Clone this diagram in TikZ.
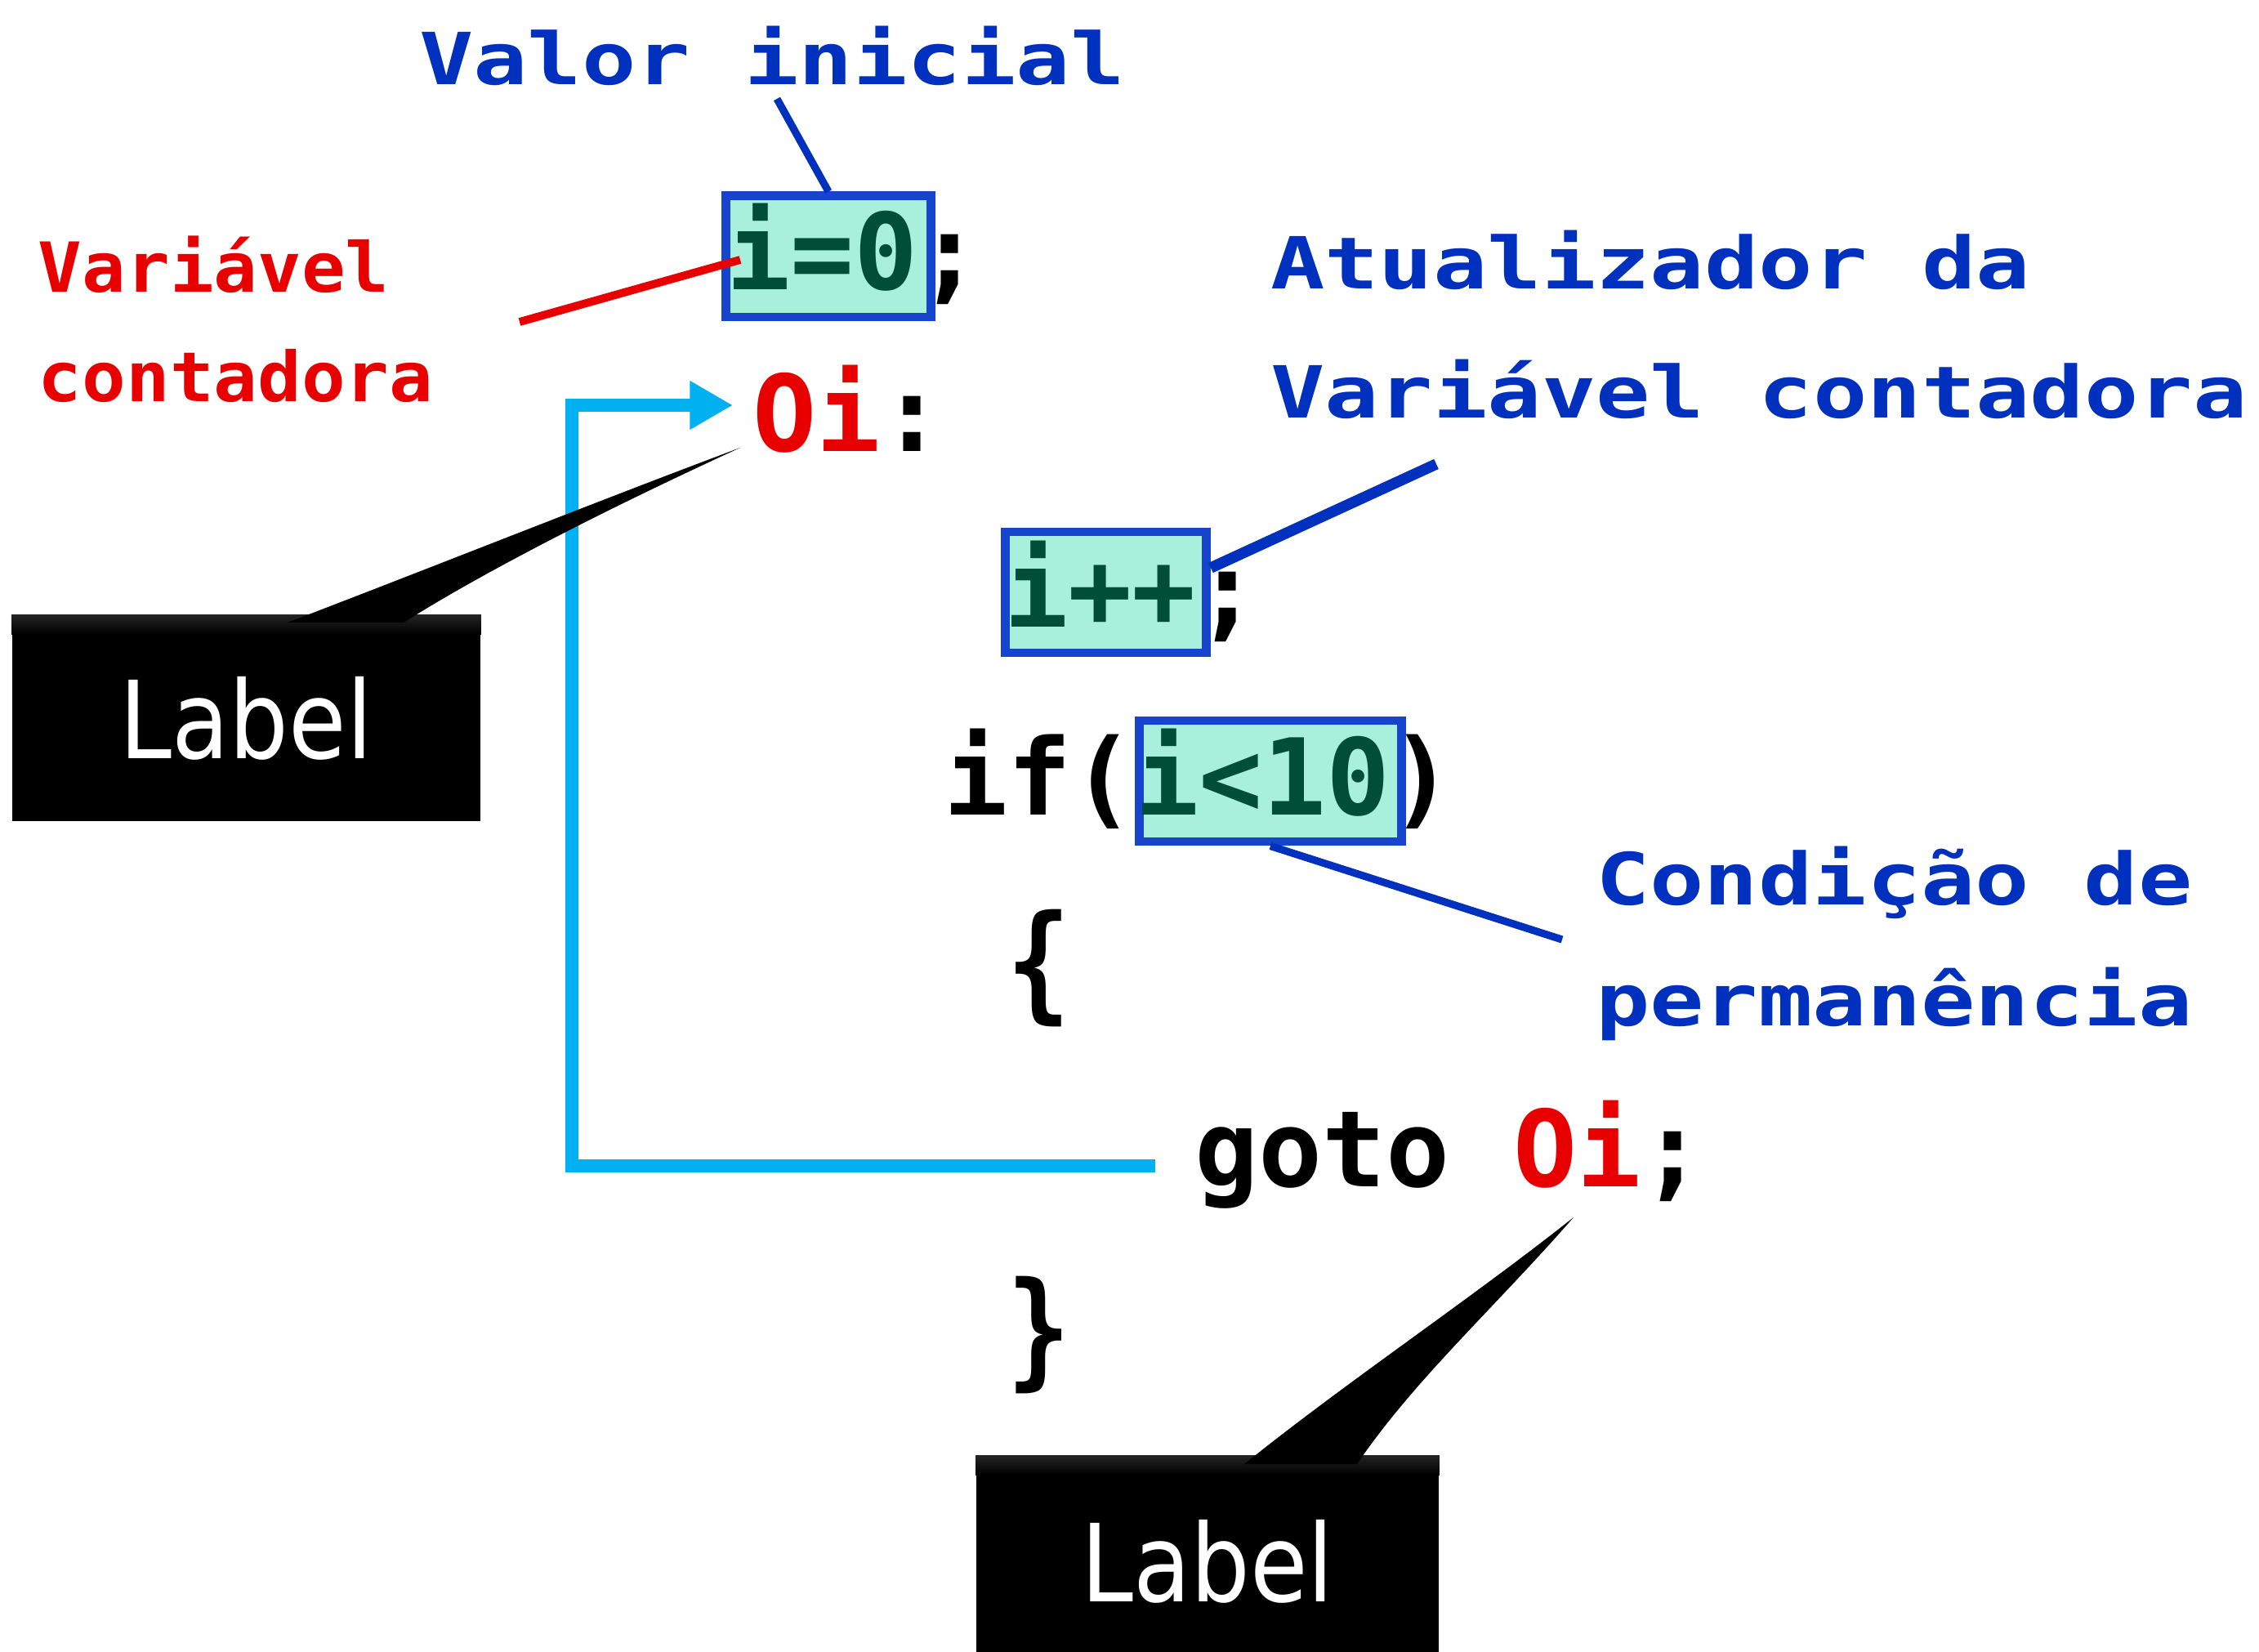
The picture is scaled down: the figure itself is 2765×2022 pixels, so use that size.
\documentclass[tikz,border=0pt]{standalone}
\usepackage{fontspec}
\usepackage{graphicx}
\usetikzlibrary{arrows.meta,calc}
\newfontfamily\codefont{DejaVu Sans Mono}
\newfontfamily\labelfont{DejaVu Sans}
\definecolor{annoblue}{RGB}{0,48,190}
\definecolor{annored}{RGB}{232,0,0}
\definecolor{boxblue}{RGB}{22,68,205}
\definecolor{boxfill}{RGB}{168,240,220}
\definecolor{codegreen}{RGB}{0,78,55}
\definecolor{loopcyan}{RGB}{0,176,240}
\tikzset{
  codetxt/.style={anchor=base west, inner sep=0pt, outer sep=0pt, font=\codefont\bfseries\fontsize{36.9}{40}\selectfont},
  annob/.style={anchor=base west, inner sep=0pt, outer sep=0pt, text=annoblue, font=\codefont\bfseries\fontsize{25}{28}\selectfont},
  annor/.style={anchor=base west, inner sep=0pt, outer sep=0pt, text=annored, font=\codefont\bfseries\fontsize{24}{28}\selectfont},
  codebox/.style={draw=boxblue, fill=boxfill, line width=3.1pt, inner sep=0pt, minimum height=1.48cm},
  labelbox/.style={fill=black, inner sep=0pt},
  labeltxt/.style={text=white, inner sep=0pt, font=\labelfont\fontsize{37.5}{40}\selectfont},
  bevel/.style={top color=black!86, bottom color=black},
  wedge/.style={fill=black},
  thinblue/.style={draw=annoblue, line width=2.6pt},
  thickblue/.style={draw=annoblue, line width=3.8pt},
  redline/.style={draw=annored, line width=2.8pt},
  loopline/.style={draw=loopcyan, line width=4.3pt, -{Triangle[length=15pt,width=16pt]}},
}
\newcommand{\bxs}[1]{\scalebox{1.255}[1]{#1}}
\newcommand{\rxs}[1]{\scalebox{1.057}[1]{#1}}
\newcommand{\lxs}[1]{\scalebox{0.87}[1]{#1}}
\begin{document}
\begin{tikzpicture}[x=0.01cm,y=-0.01cm]
\clip (0,0) rectangle (2765,2022);
\fill[white] (0,0) rectangle (2765,2022);

% highlighted boxes
\node[codebox, minimum width=2.51cm] (b1) at (1014,314) {};
\node[codebox, minimum width=2.46cm] (b2) at (1353.5,725) {};
\node[codebox, minimum width=3.21cm] (b3) at (1555,956) {};

% annotations
\node[annob] (vi) at (513,104) {\bxs{Valor inicial}};
\node[annor] (vc1) at (47,358) {\rxs{Variável}};
\node[annor] (vc2) at (47,492) {\rxs{contadora}};
\node[annob] (at1) at (1555,354) {\bxs{Atualizador da}};
\node[annob] (at2) at (1555,512) {\bxs{Variável contadora}};
\node[annob] (cp1) at (1953,1108) {\bxs{Condição de}};
\node[annob] (cp2) at (1953,1256) {\bxs{permanência}};

% connector lines (drawn before code text)
\coordinate (viend) at (951,121);
\draw[thinblue] (viend) -- (b1.north);
\coordinate (vcstart) at (636,394);
\coordinate (vcend) at (906,318);
\draw[redline] (vcstart) -- (vcend);
\coordinate (b2pt) at (1482,695);
\coordinate (atend) at (1758,568);
\draw[thickblue] (b2pt) -- (atend);
\coordinate (cpend) at (1912,1150);
\draw[thinblue] (b3.south) -- (cpend);

% code
\node[codetxt] (l1) at (889,355) {\textcolor{codegreen}{i=0};};
\node[codetxt] (oi) at (921,553) {\textcolor{annored}{Oi}:};
\node[codetxt] (l2) at (1229,768) {\textcolor{codegreen}{i++};};
\node[codetxt] (l3) at (1155,998) {if(\textcolor{codegreen}{i<10})};
\node[codetxt] (ob) at (1232,1232) {\scalebox{1}[1.2]{\{}};
\node[codetxt] (gt) at (1462,1452) {goto \textcolor{annored}{Oi};};
\node[codetxt] (cb) at (1232,1680) {\scalebox{1}[1.2]{\}}};

% goto loop
\coordinate (gstart) at (1414,1427);
\coordinate (gleft) at (700,1427);
\coordinate (gtop) at (700,496);
\coordinate (gtip) at (897,496);
\draw[loopline] (gstart) -- (gleft) -- (gtop) -- (gtip);

% callouts
\node[labelbox, minimum width=5.73cm, minimum height=2.52cm] (lab1) at (301.5,879) {};
\shade[bevel] (lab1.north west) rectangle ($(lab1.north east)+(0,24)$);
\node[labeltxt] (lt1) at (lab1.center) {\lxs{Label}};
\fill[wedge] (352,762) .. controls (540,690) and (740,610) .. (906,548) .. controls (760,615) and (600,695) .. (494,762) -- cycle;
\node[labelbox, minimum width=5.66cm, minimum height=2.58cm] (lab2) at (1478,1911) {};
\shade[bevel] (lab2.north west) rectangle ($(lab2.north east)+(0,24)$);
\node[labeltxt] (lt2) at (lab2.center) {\lxs{Label}};
\fill[wedge] (1523,1792) .. controls (1650,1690) and (1800,1590) .. (1926,1490) .. controls (1830,1600) and (1730,1690) .. (1661,1792) -- cycle;
\end{tikzpicture}
\end{document}
